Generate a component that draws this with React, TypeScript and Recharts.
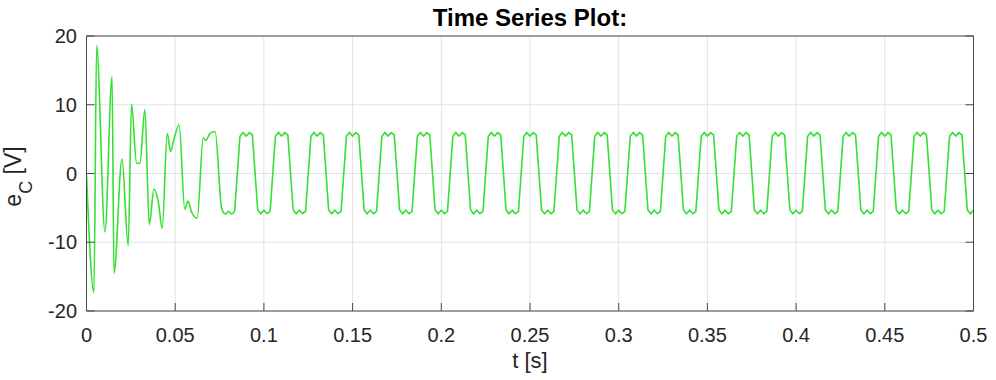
import React from 'react';
import { LineChart, Line, XAxis, YAxis, CartesianGrid, Label } from 'recharts';

// Start-up transient (t in seconds, e_C in volts)
const transientTimes = [
  0, 0.0042, 0.0057, 0.0104, 0.0144, 0.0155, 0.02, 0.0235, 0.0254, 0.0282,
  0.0301, 0.0329, 0.0354, 0.038, 0.0404, 0.0427, 0.0455, 0.0474, 0.0492, 0.0522,
  0.0554, 0.0572, 0.0592, 0.0624, 0.0658, 0.0673, 0.0695, 0.0725, 0.0761, 0.0768,
  0.0784, 0.08, 0.0817, 0.0835,
];
const transientVolts = [
  -0.2, -17.3, 18.6, -8.5, 14.1, -14.5, 2.1, -10.5, 10.1, 1.5,
  1.5, 9.3, -7.4, -2.3, -4.0, -8.0, 5.8, 3.2, 4.9, 7.1,
  -5.2, -4.0, -5.6, -6.5, 5.2, 4.8, 5.8, 6.1, -5.0, -5.5,
  -5.9, -5.5, -5.9, -5.5,
];

// Steady-state square-like wave, one row per 20 ms period
const steadyTimes = [
  0.0865, 0.0882, 0.09, 0.0918, 0.0935, 0.0965, 0.0982, 0.1, 0.1018, 0.1035,
  0.1065, 0.1082, 0.11, 0.1118, 0.1135, 0.1165, 0.1182, 0.12, 0.1218, 0.1235,
  0.1265, 0.1282, 0.13, 0.1318, 0.1335, 0.1365, 0.1382, 0.14, 0.1418, 0.1435,
  0.1465, 0.1482, 0.15, 0.1518, 0.1535, 0.1565, 0.1582, 0.16, 0.1618, 0.1635,
  0.1665, 0.1682, 0.17, 0.1718, 0.1735, 0.1765, 0.1782, 0.18, 0.1818, 0.1835,
  0.1865, 0.1882, 0.19, 0.1918, 0.1935, 0.1965, 0.1982, 0.2, 0.2018, 0.2035,
  0.2065, 0.2082, 0.21, 0.2118, 0.2135, 0.2165, 0.2182, 0.22, 0.2218, 0.2235,
  0.2265, 0.2282, 0.23, 0.2318, 0.2335, 0.2365, 0.2382, 0.24, 0.2418, 0.2435,
  0.2465, 0.2482, 0.25, 0.2518, 0.2535, 0.2565, 0.2582, 0.26, 0.2618, 0.2635,
  0.2665, 0.2682, 0.27, 0.2718, 0.2735, 0.2765, 0.2782, 0.28, 0.2818, 0.2835,
  0.2865, 0.2882, 0.29, 0.2918, 0.2935, 0.2965, 0.2982, 0.3, 0.3018, 0.3035,
  0.3065, 0.3082, 0.31, 0.3118, 0.3135, 0.3165, 0.3182, 0.32, 0.3218, 0.3235,
  0.3265, 0.3282, 0.33, 0.3318, 0.3335, 0.3365, 0.3382, 0.34, 0.3418, 0.3435,
  0.3465, 0.3482, 0.35, 0.3518, 0.3535, 0.3565, 0.3582, 0.36, 0.3618, 0.3635,
  0.3665, 0.3682, 0.37, 0.3718, 0.3735, 0.3765, 0.3782, 0.38, 0.3818, 0.3835,
  0.3865, 0.3882, 0.39, 0.3918, 0.3935, 0.3965, 0.3982, 0.4, 0.4018, 0.4035,
  0.4065, 0.4082, 0.41, 0.4118, 0.4135, 0.4165, 0.4182, 0.42, 0.4218, 0.4235,
  0.4265, 0.4282, 0.43, 0.4318, 0.4335, 0.4365, 0.4382, 0.44, 0.4418, 0.4435,
  0.4465, 0.4482, 0.45, 0.4518, 0.4535, 0.4565, 0.4582, 0.46, 0.4618, 0.4635,
  0.4665, 0.4682, 0.47, 0.4718, 0.4735, 0.4765, 0.4782, 0.48, 0.4818, 0.4835,
  0.4865, 0.4882, 0.49, 0.4918, 0.4935, 0.4965, 0.4982, 0.5,
];
const steadyVolts = [
  5.4, 5.95, 5.45, 5.95, 5.6, -5.3, -5.85, -5.35, -5.85, -5.5,
  5.4, 5.95, 5.45, 5.95, 5.6, -5.3, -5.85, -5.35, -5.85, -5.5,
  5.4, 5.95, 5.45, 5.95, 5.6, -5.3, -5.85, -5.35, -5.85, -5.5,
  5.4, 5.95, 5.45, 5.95, 5.6, -5.3, -5.85, -5.35, -5.85, -5.5,
  5.4, 5.95, 5.45, 5.95, 5.6, -5.3, -5.85, -5.35, -5.85, -5.5,
  5.4, 5.95, 5.45, 5.95, 5.6, -5.3, -5.85, -5.35, -5.85, -5.5,
  5.4, 5.95, 5.45, 5.95, 5.6, -5.3, -5.85, -5.35, -5.85, -5.5,
  5.4, 5.95, 5.45, 5.95, 5.6, -5.3, -5.85, -5.35, -5.85, -5.5,
  5.4, 5.95, 5.45, 5.95, 5.6, -5.3, -5.85, -5.35, -5.85, -5.5,
  5.4, 5.95, 5.45, 5.95, 5.6, -5.3, -5.85, -5.35, -5.85, -5.5,
  5.4, 5.95, 5.45, 5.95, 5.6, -5.3, -5.85, -5.35, -5.85, -5.5,
  5.4, 5.95, 5.45, 5.95, 5.6, -5.3, -5.85, -5.35, -5.85, -5.5,
  5.4, 5.95, 5.45, 5.95, 5.6, -5.3, -5.85, -5.35, -5.85, -5.5,
  5.4, 5.95, 5.45, 5.95, 5.6, -5.3, -5.85, -5.35, -5.85, -5.5,
  5.4, 5.95, 5.45, 5.95, 5.6, -5.3, -5.85, -5.35, -5.85, -5.5,
  5.4, 5.95, 5.45, 5.95, 5.6, -5.3, -5.85, -5.35, -5.85, -5.5,
  5.4, 5.95, 5.45, 5.95, 5.6, -5.3, -5.85, -5.35, -5.85, -5.5,
  5.4, 5.95, 5.45, 5.95, 5.6, -5.3, -5.85, -5.35, -5.85, -5.5,
  5.4, 5.95, 5.45, 5.95, 5.6, -5.3, -5.85, -5.35, -5.85, -5.5,
  5.4, 5.95, 5.45, 5.95, 5.6, -5.3, -5.85, -5.35, -5.85, -5.5,
  5.4, 5.95, 5.45, 5.95, 5.6, -5.3, -5.85, -5.35,
];

const xTicks = [0, 0.05, 0.1, 0.15, 0.2, 0.25, 0.3, 0.35, 0.4, 0.45, 0.5];
const xTickLabels = ['0', '0.05', '0.1', '0.15', '0.2', '0.25', '0.3', '0.35', '0.4', '0.45', '0.5'];
const yTicks = [-20, -10, 0, 10, 20];
const yTickLabels = ['-20', '-10', '0', '10', '20'];

const titleText = 'Time Series Plot:';
const xLabelText = 't [s]';

const transientData = transientTimes.map((t, i) => ({ t, v: transientVolts[i] }));
// the steady segment continues from the last transient sample
const steadyData = [
  transientData[transientData.length - 1],
  ...steadyTimes.map((t, i) => ({ t, v: steadyVolts[i] })),
];

const FONT = '"Liberation Sans", Arial, Helvetica, sans-serif';
const AXIS = '#4a4a4a';
const TEXT = '#262626';
const LINE = '#33e033';
const TICK_LEN = 8;

const xLabelOf = (v: number) => xTickLabels[xTicks.indexOf(v)] ?? String(v);
const yLabelOf = (v: number) => yTickLabels[yTicks.indexOf(v)] ?? String(v);

// Custom ticks: inward tick marks (MATLAB style) plus labels
const BottomTick = (props: any) => {
  const { x, y, payload } = props;
  return (
    <g>
      <line x1={x} y1={y} x2={x} y2={y - TICK_LEN} stroke={AXIS} strokeWidth={1} />
      <text x={x} y={y + 31} textAnchor="middle" fontSize={20} fill={TEXT} fontFamily={FONT}>
        {xLabelOf(payload.value)}
      </text>
    </g>
  );
};
const TopTick = (props: any) => {
  const { x, y } = props;
  return <line x1={x} y1={y} x2={x} y2={y + TICK_LEN} stroke={AXIS} strokeWidth={1} />;
};
const LeftTick = (props: any) => {
  const { x, y, payload } = props;
  return (
    <g>
      <line x1={x} y1={y} x2={x + TICK_LEN} y2={y} stroke={AXIS} strokeWidth={1} />
      <text x={x - 9.5} y={y + 7.2} textAnchor="end" fontSize={20} fill={TEXT} fontFamily={FONT}>
        {yLabelOf(payload.value)}
      </text>
    </g>
  );
};
const RightTick = (props: any) => {
  const { x, y } = props;
  return <line x1={x} y1={y} x2={x - TICK_LEN} y2={y} stroke={AXIS} strokeWidth={1} />;
};

const YLabel = (props: any) => {
  const vb = props.viewBox || { x: 0, y: 36, width: 86.5, height: 275 };
  const cx = 20.5;
  const cy = vb.y + vb.height / 2 + 3;
  return (
    <text
      transform={`translate(${cx}, ${cy}) rotate(-90)`}
      textAnchor="middle"
      fontFamily={FONT}
      fontSize={23}
      fill={TEXT}
    >
      <tspan>e</tspan>
      <tspan dy={11} fontSize={18}>C</tspan>
      <tspan dy={-11}> [V]</tspan>
    </text>
  );
};

export default function App() {
  return (
    <div style={{ position: 'absolute', left: 0, top: 0, width: 996, height: 380, background: '#ffffff' }}>
      <LineChart
        width={996}
        height={380}
        margin={{ top: 35, right: 21.5, bottom: 0, left: 0 }}
      >
        <CartesianGrid xAxisId="b" yAxisId="l" stroke="#e3e3e3" strokeWidth={1} />
        <XAxis
          xAxisId="b"
          dataKey="t"
          type="number"
          domain={[0, 0.5]}
          ticks={xTicks}
          interval={0}
          allowDataOverflow
          height={69}
          tickSize={0}
          tickMargin={0}
          tickLine={false}
          stroke={AXIS}
          tick={<BottomTick />}
        >
          <Label
            value={xLabelText}
            position="insideBottom"
            offset={12}
            style={{ fontSize: 22, fill: TEXT, fontFamily: FONT }}
          />
        </XAxis>
        <XAxis
          xAxisId="t"
          orientation="top"
          type="number"
          domain={[0, 0.5]}
          ticks={xTicks}
          interval={0}
          allowDataOverflow
          height={1}
          tickSize={0}
          tickMargin={0}
          tickLine={false}
          tick={<TopTick />}
          stroke={AXIS}
        >
          <Label
            value={titleText}
            position="top"
            offset={9}
            style={{ fontSize: 24, fontWeight: 'bold', fill: '#000000', fontFamily: FONT }}
          />
        </XAxis>
        <YAxis
          yAxisId="l"
          type="number"
          domain={[-20, 20]}
          ticks={yTicks}
          interval={0}
          allowDataOverflow
          width={86.5}
          tickSize={0}
          tickMargin={0}
          tickLine={false}
          stroke={AXIS}
          tick={<LeftTick />}
          label={<YLabel />}
        />
        <YAxis
          yAxisId="r"
          orientation="right"
          type="number"
          domain={[-20, 20]}
          ticks={yTicks}
          interval={0}
          allowDataOverflow
          width={1}
          tickSize={0}
          tickMargin={0}
          tickLine={false}
          tick={<RightTick />}
          stroke={AXIS}
        />
        <Line
          xAxisId="b"
          yAxisId="l"
          data={transientData}
          dataKey="v"
          type="monotone"
          stroke={LINE}
          strokeWidth={1.6}
          dot={false}
          activeDot={false}
          isAnimationActive={false}
        />
        <Line
          xAxisId="b"
          yAxisId="l"
          data={steadyData}
          dataKey="v"
          type="linear"
          stroke={LINE}
          strokeWidth={1.6}
          dot={false}
          activeDot={false}
          isAnimationActive={false}
        />
      </LineChart>
    </div>
  );
}
